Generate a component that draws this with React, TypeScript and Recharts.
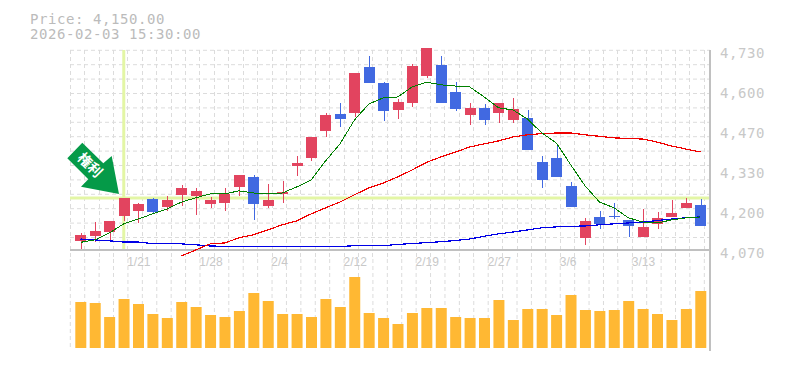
import { Bar, CartesianGrid, ComposedChart, Line, ReferenceLine, XAxis, YAxis } from "recharts"

const dates = ["1/15", "1/16", "1/19", "1/20", "1/21", "1/22", "1/23", "1/26", "1/27", "1/28", "1/29", "1/30", "2/2", "2/3", "2/4", "2/5", "2/6", "2/9", "2/10", "2/12", "2/13", "2/16", "2/17", "2/18", "2/19", "2/20", "2/24", "2/25", "2/26", "2/27", "3/2", "3/3", "3/4", "3/5", "3/6", "3/9", "3/10", "3/11", "3/12", "3/13", "3/16", "3/17", "3/18", "3/19"]
const opens = [4101, 4116, 4129, 4182, 4199, 4238, 4212, 4252, 4248, 4222, 4225, 4278, 4311, 4215, 4255, 4347, 4374, 4463, 4519, 4522, 4674, 4621, 4532, 4555, 4644, 4681, 4591, 4515, 4539, 4522, 4499, 4506, 4360, 4374, 4281, 4110, 4179, 4182, 4169, 4113, 4156, 4179, 4209, 4219]
const closes = [4120, 4133, 4166, 4242, 4222, 4195, 4235, 4275, 4265, 4235, 4255, 4317, 4222, 4235, 4261, 4357, 4443, 4515, 4502, 4654, 4621, 4529, 4558, 4677, 4737, 4555, 4535, 4539, 4499, 4555, 4535, 4400, 4301, 4311, 4212, 4166, 4156, 4179, 4149, 4146, 4176, 4192, 4225, 4149]
const highs = [4126, 4162, 4166, 4242, 4225, 4242, 4248, 4285, 4275, 4245, 4275, 4317, 4317, 4288, 4298, 4380, 4443, 4522, 4555, 4654, 4710, 4624, 4568, 4684, 4737, 4710, 4624, 4555, 4552, 4555, 4572, 4532, 4380, 4417, 4294, 4176, 4199, 4225, 4169, 4205, 4195, 4235, 4242, 4238]
const lows = [4073, 4096, 4100, 4166, 4159, 4192, 4199, 4215, 4186, 4209, 4199, 4248, 4169, 4209, 4225, 4314, 4364, 4443, 4476, 4509, 4621, 4496, 4502, 4542, 4638, 4555, 4529, 4482, 4482, 4489, 4489, 4400, 4275, 4311, 4212, 4086, 4139, 4172, 4113, 4113, 4139, 4179, 4209, 4149]
const maShort = [4095, 4103, 4126, 4156, 4172, 4189, 4205, 4228, 4242, 4255, 4255, 4265, 4258, 4255, 4258, 4278, 4301, 4364, 4420, 4499, 4552, 4572, 4575, 4608, 4624, 4615, 4611, 4608, 4575, 4539, 4532, 4502, 4456, 4423, 4351, 4281, 4228, 4209, 4176, 4162, 4159, 4169, 4176, 4179]
const maMid = [null, null, null, null, null, null, null, 4050, 4070, 4090, 4093, 4110, 4120, 4136, 4153, 4166, 4189, 4209, 4228, 4252, 4275, 4291, 4311, 4334, 4359, 4377, 4393, 4410, 4420, 4430, 4443, 4450, 4454, 4456, 4456, 4450, 4445, 4440, 4438, 4436, 4426, 4413, 4403, 4393]
const maLong = [4106, 4103, 4100, 4096, 4096, 4091, 4090, 4090, 4087, 4083, 4082, 4081, 4081, 4081, 4081, 4081, 4081, 4081, 4081, 4084, 4084, 4084, 4088, 4091, 4094, 4097, 4101, 4106, 4115, 4123, 4129, 4136, 4143, 4146, 4148, 4149, 4153, 4156, 4159, 4162, 4167, 4172, 4176, 4179]
const volumes = [46, 45, 31, 49, 44, 34, 30, 46, 41, 33, 31, 37, 55, 47, 34, 34, 31, 49, 41, 71, 35, 30, 24, 35, 40, 40, 31, 30, 30, 48, 28, 39, 39, 33, 53, 38, 37, 38, 47, 39, 34, 28, 39, 57]

const priceTicks = [4730, 4598, 4466, 4334, 4202, 4070]
const dateTicks = ["1/21", "1/28", "2/4", "2/12", "2/19", "2/27", "3/6", "3/13"]

const UP_COLOR = "#e2445f"
const DOWN_COLOR = "#4169e1"
const GRID_COLOR = "#dcdcdc"
const AXIS_COLOR = "#c0c0c0"
const CROSS_COLOR = "#e3f6a5"
const LABEL_COLOR = "#c8c8c8"
const MONO = "'DejaVu Sans Mono', monospace"
const PRICE_DOMAIN = [4040, 4737]
const PADDING = { left: 3.3, right: 2.3 }

const gridX = Array.from({ length: 45 }, (_, i) => 70.3 + i * 14.41)
const gridY = Array.from({ length: 14 }, (_, i) => 50.3 + i * 14.4)

const chartData = dates.map((date, i) => ({
  date,
  open: opens[i],
  close: closes[i],
  high: highs[i],
  low: lows[i],
  maShort: maShort[i],
  maMid: maMid[i],
  maLong: maLong[i],
  volume: volumes[i],
}))

// body and wick drawn inside the low-high bar that recharts hands us
function Candle(props: any) {
  const { x, y, width, height, payload } = props
  const unit = Math.abs(height) / (payload.high - payload.low)
  const top = y + (payload.high - Math.max(payload.open, payload.close)) * unit
  const bodyH = Math.max(Math.abs(payload.open - payload.close) * unit, 1)
  const color = payload.close >= payload.open ? UP_COLOR : DOWN_COLOR
  const mid = Math.round(x + width / 2)
  return (
    <g shapeRendering="crispEdges">
      <rect x={mid} y={y} width={1} height={Math.abs(height)} fill={color} />
      <rect x={x} y={top} width={width} height={bodyH} fill={color} />
    </g>
  )
}

function GridLineV(props: any) {
  return <line key={props.key} x1={props.x1} x2={props.x2} y1={50} y2={props.y2} stroke={GRID_COLOR} strokeDasharray="4 3" shapeRendering="crispEdges" />
}

function PriceTick({ y, payload }: any) {
  const label = (Math.round(payload.value / 10) * 10).toLocaleString("en-US")
  return (
    <text x={720} y={y + 8} fontFamily={MONO} fontSize={14} letterSpacing={0.57} fill={LABEL_COLOR}>
      {label}
    </text>
  )
}

function DateTick({ x, payload }: any) {
  return (
    <text x={x - 11} y={266} fontFamily="'Liberation Sans', sans-serif" fontSize={12} fill={LABEL_COLOR}>
      {payload.value}
    </text>
  )
}

const headerStyle = { position: "absolute", left: 30, fontFamily: MONO, fontSize: 14, letterSpacing: 0.57, lineHeight: "14px", color: "#bbb", whiteSpace: "pre" } as const

export default function App() {
  return (
    <div style={{ position: "absolute", left: 0, top: 0, width: 785, height: 370, background: "#fff", overflow: "hidden" }}>
      <div style={{ ...headerStyle, top: 12 }}>Price: 4,150.00</div>
      <div style={{ ...headerStyle, top: 27 }}>2026-02-03 15:30:00</div>

      {/* volume */}
      <div style={{ position: "absolute", left: 0, top: 259 }}>
        <ComposedChart width={785} height={111} data={chartData} margin={{ top: 0, right: 75, bottom: 20, left: 70 }}>
          <CartesianGrid horizontal={false} verticalPoints={gridX} stroke={GRID_COLOR} strokeDasharray="4 3" />
          <XAxis dataKey="date" tick={false} tickLine={false} height={0} stroke={AXIS_COLOR} strokeWidth={2} padding={PADDING} />
          <YAxis hide domain={[-2, 89]} />
          <Bar dataKey="volume" barSize={11} fill="#ffb833" isAnimationActive={false} />
        </ComposedChart>
      </div>

      {/* grid, crosshair and axes stay under the candles */}
      <div style={{ position: "absolute", left: 0, top: 0 }}>
        <ComposedChart width={785} height={279} data={chartData} margin={{ top: 47.88, right: 0, bottom: 0, left: 70 }}>
          <CartesianGrid horizontalPoints={gridY} verticalPoints={gridX} stroke={GRID_COLOR} strokeDasharray="4 3" vertical={GridLineV} />
          <XAxis dataKey="date" scale="band" ticks={dateTicks} interval={0} tick={DateTick} tickLine={false} axisLine={false} height={20} padding={PADDING} />
          <YAxis orientation="right" width={75} domain={PRICE_DOMAIN} ticks={priceTicks} interval={0} tick={PriceTick} tickLine={false} axisLine={false} />
          <ReferenceLine y={4241} stroke={CROSS_COLOR} strokeWidth={3} />
          <ReferenceLine segment={[{ x: "1/20", y: 4730 }, { x: "1/20", y: 4070 }]} stroke={CROSS_COLOR} strokeWidth={3} />
          <ReferenceLine y={4070} stroke={AXIS_COLOR} strokeWidth={2} />
          <Line dataKey="maLong" stroke="none" dot={false} activeDot={false} isAnimationActive={false} />
        </ComposedChart>
      </div>

      {/* price */}
      <div style={{ position: "absolute", left: 0, top: 0 }}>
        <ComposedChart width={785} height={279} data={chartData} margin={{ top: 47.88, right: 75, bottom: 20, left: 70 }}>
          <XAxis hide dataKey="date" padding={PADDING} />
          <YAxis hide domain={PRICE_DOMAIN} />
          <Bar dataKey={(d: any) => [d.low, d.high]} barSize={11} shape={Candle} isAnimationActive={false} />
          <Line dataKey="maLong" stroke="#0000e6" strokeWidth={1.2} shapeRendering="crispEdges" dot={false} activeDot={false} isAnimationActive={false} />
          <Line dataKey="maMid" stroke="#f00000" strokeWidth={1.2} shapeRendering="crispEdges" dot={false} activeDot={false} isAnimationActive={false} />
          <Line dataKey="maShort" stroke="#008000" strokeWidth={1} shapeRendering="crispEdges" dot={false} activeDot={false} isAnimationActive={false} />
        </ComposedChart>
      </div>

      <svg width={785} height={370} style={{ position: "absolute", left: 0, top: 0, pointerEvents: "none" }}>
        <line x1={710} x2={710} y1={50} y2={351} stroke={AXIS_COLOR} strokeWidth={2} />
        <polygon points="67.3,158.3 82.3,142.7 103.3,163.3 111.7,156 119,194 81,186.7 88.3,179.3" fill="#059a48" />
        <text x={90} y={170} transform="rotate(45 90 165)" textAnchor="middle" fontFamily="'Noto Sans CJK JP', sans-serif" fontWeight={700} fontSize={14} fill="#fff">
          権利
        </text>
      </svg>
    </div>
  )
}
